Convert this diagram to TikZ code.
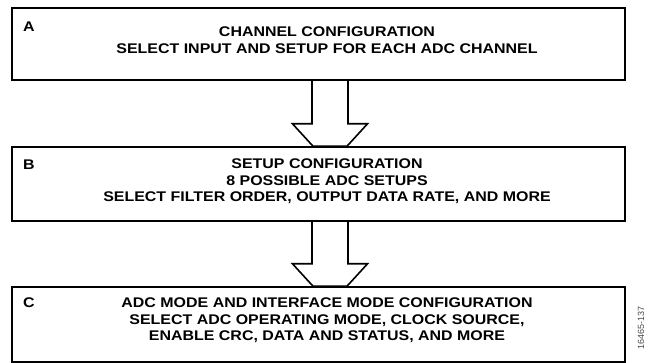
\documentclass[tikz,border=0pt]{standalone}
\usepackage{fontspec}
\setmainfont{Liberation Sans}
\newfontfamily\widearial[FakeStretch=1.14]{Liberation Sans}
\usetikzlibrary{calc}
\tikzset{
  stagebox/.style={draw=black, line width=1.6pt, fill=none, inner sep=0pt},
  stagetext/.style={align=center, inner sep=0pt, font=\widearial\fontsize{14}{16.6}\selectfont\bfseries},
  stagelabel/.style={anchor=north west, inner sep=0pt, font=\widearial\fontsize{14}{16.6}\selectfont\bfseries},
  blockarrow/.style={draw=black, line width=1.6pt, line join=miter},
  figid/.style={rotate=90, inner sep=0pt, text=black!70, font=\fontsize{9}{10}\selectfont}
}
\begin{document}
\begin{tikzpicture}[x=1pt,y=-1pt]
\useasboundingbox (0,0) rectangle (651,363);
% boxes
\node[stagebox, minimum width=613pt, minimum height=72pt] (A) at (318.5,44) {};
\node[stagebox, minimum width=613pt, minimum height=74pt] (B) at (318.5,184) {};
\node[stagebox, minimum width=613pt, minimum height=75pt] (C) at (318.5,324.5) {};
\coordinate (ax) at (330,0);
% arrows
\draw[blockarrow] ($(A.south -| ax)+(-18,0)$) -- ++(0,43) -- ++(-19.5,0)
   -- ($(B.north -| ax)+(-17,0)$) -- ($(B.north -| ax)+(17,0)$)
   -- ($(A.south -| ax)+(37.5,43)$) -- ++(-19.5,0) -- ($(A.south -| ax)+(18,0)$);
\draw[blockarrow] ($(B.south -| ax)+(-18,0)$) -- ++(0,42) -- ++(-19.5,0)
   -- ($(C.north -| ax)+(-17,0)$) -- ($(C.north -| ax)+(17,0)$)
   -- ($(B.south -| ax)+(37.5,42)$) -- ++(-19.5,0) -- ($(B.south -| ax)+(18,0)$);
% labels
\node[stagelabel] (la) at (23,21.5) {A};
\node[stagelabel] (lb) at (23,159.5) {B};
\node[stagelabel] (lc) at (23,297.5) {C};
% texts
\node[stagetext] (ta) at (327,40) {CHANNEL CONFIGURATION\\SELECT INPUT AND SETUP FOR EACH ADC CHANNEL};
\node[stagetext] (tb) at (327,181.5) {SETUP CONFIGURATION\\8 POSSIBLE ADC SETUPS\\SELECT FILTER ORDER, OUTPUT DATA RATE, AND MORE};
\node[stagetext] (tc) at (327,320.5) {ADC MODE AND INTERFACE MODE CONFIGURATION\\SELECT ADC OPERATING MODE, CLOCK SOURCE,\\ENABLE CRC, DATA AND STATUS, AND MORE};
\node[figid] (fid) at (641,328) {16465-137};
\end{tikzpicture}
\end{document}
